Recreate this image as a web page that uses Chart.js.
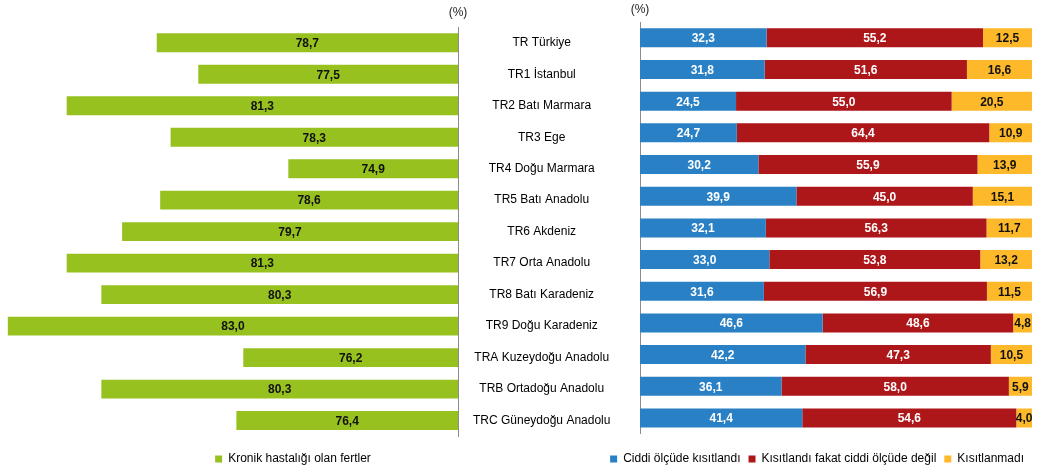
<!DOCTYPE html>
<html>
<head>
<meta charset="utf-8">
<script src="https://cdn.jsdelivr.net/npm/chart.js@4/dist/chart.umd.min.js"></script>
<style>
html, body { margin: 0; padding: 0; background: #fff; overflow: hidden; }
#wrap { position: relative; width: 1050px; height: 475px; overflow: hidden; }
#left { position: absolute; left: -32px; top: 0; }
#right { position: absolute; left: 460px; top: 0; }
</style>
</head>
<body>
<div id="wrap">
    <canvas id="left" width="650" height="475"></canvas>
    <canvas id="right" width="590" height="475"></canvas>
</div>
<script>
/* ─────────────────────────────────────────
   DATA
───────────────────────────────────────── */
const regions = ['TR Türkiye', 'TR1 İstanbul', 'TR2 Batı Marmara', 'TR3 Ege', 'TR4 Doğu Marmara',
    'TR5 Batı Anadolu', 'TR6 Akdeniz', 'TR7 Orta Anadolu', 'TR8 Batı Karadeniz', 'TR9 Doğu Karadeniz',
    'TRA Kuzeydoğu Anadolu', 'TRB Ortadoğu Anadolu', 'TRC Güneydoğu Anadolu'];
const chronic = [78.7, 77.5, 81.3, 78.3, 74.9, 78.6, 79.7, 81.3, 80.3, 83.0, 76.2, 80.3, 76.4];
const severe = [32.3, 31.8, 24.5, 24.7, 30.2, 39.9, 32.1, 33.0, 31.6, 46.6, 42.2, 36.1, 41.4];
const limited = [55.2, 51.6, 55.0, 64.4, 55.9, 45.0, 56.3, 53.8, 56.9, 48.6, 47.3, 58.0, 54.6];
const notLimited = [12.5, 16.6, 20.5, 10.9, 13.9, 15.1, 11.7, 13.2, 11.5, 4.8, 10.5, 5.9, 4.0];

const FONT = '"Liberation Sans", Arial, sans-serif';
const AXIS = '#8c8c8c';

function fmt(v) {
    return v.toFixed(1).replace('.', ',');
}

/* ─────────────────────────────────────────
   PLUGIN — value labels + (%) unit
───────────────────────────────────────── */
const barLabels = {
    id: 'barLabels',
    afterDatasetsDraw(chart, args, opts) {
        const ctx = chart.ctx;
        const area = chart.chartArea;
        const clamp = v => Math.max(area.left, Math.min(area.right, v));
        ctx.save();
        ctx.font = 'bold 12px ' + FONT;
        ctx.textAlign = 'center';
        ctx.textBaseline = 'middle';
        chart.data.datasets.forEach((ds, i) => {
            chart.getDatasetMeta(i).data.forEach((bar, j) => {
                ctx.fillStyle = ds.labelColor;
                ctx.fillText(fmt(ds.data[j]), (clamp(bar.x) + clamp(bar.base)) / 2, bar.y + 1);
            });
        });
        ctx.font = '12px ' + FONT;
        ctx.fillStyle = '#222';
        const x = opts.side === 'right' ? area.right : area.left;
        ctx.fillText('(%)', x, opts.y);
        ctx.restore();
    }
};

const legendLabels = {
    color: '#000',
    font: {family: FONT, size: 12},
    boxWidth: 7,
    boxHeight: 7,
    padding: 8,
};
// empty legend title = gap between the bars and the legend row
const legendGap = gap => ({display: true, text: '', font: {size: 1}, padding: {top: gap, bottom: 0}});

/* ─────────────────────────────────────────
   LEFT — Kronik hastalığı olan fertler (+ region names)
   canvas starts off-page so the axis max sits just outside the view
───────────────────────────────────────── */
new Chart(document.getElementById('left'), {
    type: 'bar',
    data: {
        labels: regions,
        datasets: [{
            label: 'Kronik hastalığı olan fertler',
            data: chronic,
            backgroundColor: '#97c11f',
            labelColor: '#111',
            barPercentage: 0.6,
            categoryPercentage: 1,
        }]
    },
    options: {
        indexAxis: 'y',
        responsive: false,
        animation: false,
        layout: {padding: {top: 27, bottom: 0}},
        scales: {
            x: {display: false, reverse: true, min: 70, max: 84.15},
            y: {
                position: 'right',
                // invisible tick marks push the centred labels away from the axis
                grid: {drawOnChartArea: false, color: 'rgba(0,0,0,0)', tickLength: 10},
                border: {display: true, color: AXIS},
                ticks: {crossAlign: 'center', padding: 5, color: '#000', font: {family: FONT, size: 12}},
                afterFit(s) { s.width = 160; }
            }
        },
        plugins: {
            legend: {position: 'bottom', labels: legendLabels, title: legendGap(7.5)},
            tooltip: {enabled: false},
            barLabels: {side: 'right', y: 13}
        }
    },
    plugins: [barLabels]
});

/* ─────────────────────────────────────────
   RIGHT — Kısıtlanma durumu (stacked 100%)
───────────────────────────────────────── */
new Chart(document.getElementById('right'), {
    type: 'bar',
    data: {
        labels: regions,
        datasets: [
            {label: 'Ciddi ölçüde kısıtlandı', data: severe, backgroundColor: '#2980c4', labelColor: '#fff'},
            {label: 'Kısıtlandı fakat ciddi ölçüde değil', data: limited, backgroundColor: '#ae1719', labelColor: '#fff'},
            {label: 'Kısıtlanmadı', data: notLimited, backgroundColor: '#fdb92a', labelColor: '#111'},
        ].map(d => Object.assign(d, {barPercentage: 0.6, categoryPercentage: 1}))
    },
    options: {
        indexAxis: 'y',
        responsive: false,
        animation: false,
        layout: {padding: {right: 18, top: 22, bottom: 0}},
        scales: {
            x: {display: false, stacked: true, min: 0, max: 100},
            y: {
                stacked: true,
                position: 'left',
                grid: {display: false},
                border: {display: true, color: AXIS},
                ticks: {display: false},
                afterFit(s) { s.width = 180; }
            }
        },
        plugins: {
            legend: {position: 'bottom', align: 'end', labels: legendLabels, title: legendGap(10)},
            tooltip: {enabled: false},
            barLabels: {side: 'left', y: 10}
        }
    },
    plugins: [barLabels]
});
</script>
</body>
</html>
